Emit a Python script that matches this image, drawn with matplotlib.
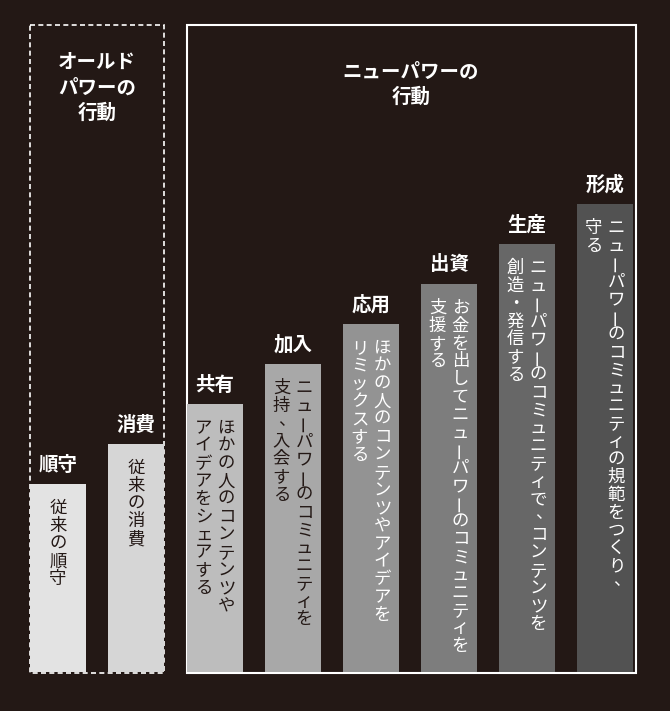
import matplotlib
matplotlib.use("Agg")
import matplotlib.pyplot as plt
from matplotlib.patches import Rectangle

plt.rcParams["font.family"] = "Noto Sans CJK JP"

labels = ["順守", "消費", "共有", "加入", "応用", "出資", "生産", "形成"]
heights = [188, 228, 268, 308, 348, 388, 428, 468]
descs = [["従来の順守"], ["従来の消費"],
         ["ほかの人のコンテンツや", "アイデアをシェアする"],
         ["ニューパワーのコミュニティを", "支持、入会する"],
         ["ほかの人のコンテンツやアイデアを", "リミックスする"],
         ["お金を出してニューパワーのコミュニティを", "支援する"],
         ["ニューパワーのコミュニティで、コンテンツを", "創造・発信する"],
         ["ニューパワーのコミュニティの規範をつくり、", "守る"]]
colors = ["#e3e3e3", "#d6d6d6", "#bdbdbd", "#a8a8a8", "#939393", "#7d7d7d", "#676767", "#525252"]
textcol = ["#231815"] * 4 + ["white"] * 4
xs = [58, 136, 215, 293, 371, 449, 527, 605]
bg = "#231815"
base = 672

fig = plt.figure(figsize=(6.7, 7.11), dpi=100, facecolor=bg)
ax = fig.add_axes([0, 0, 1, 1])
ax.set_facecolor(bg)
ax.set_xlim(0, 670)
ax.set_ylim(711, 0)
ax.axis("off")

ax.add_patch(Rectangle((30, 25), 134, 648, fill=False, ec="white", lw=1.2, ls=(0, (3, 2))))
ax.add_patch(Rectangle((187, 25), 449, 648, fill=False, ec="white", lw=1.5))
ax.text(97, 88, "オールド\nパワーの\n行動", color="white", fontsize=14, fontweight="bold",
        ha="center", va="center", linespacing=1.4)
ax.text(411, 85, "ニューパワーの\n行動", color="white", fontsize=14, fontweight="bold",
        ha="center", va="center", linespacing=1.4)

ax.bar(xs, [-h for h in heights], bottom=base, width=56, color=colors, align="center")

pitch = 17.8
for x, h, lab, d, tc in zip(xs, heights, labels, descs, textcol):
    top = base - h
    ax.text(x, top - 19, lab, color="white", fontsize=14, fontweight="bold", ha="center", va="center")
    n = len(d)
    for j, line in enumerate(d):
        cx = x + (n - 1) * 11.5 - j * 23
        for i, ch in enumerate(line):
            cy = top + 24 + i * pitch
            dx = dy = 0
            rot = 0
            if ch == "ー":
                rot = 90
            if ch in "、。":
                dx, dy = 5, -4
            ax.text(cx + dx, cy + dy, ch, color=tc, fontsize=12.5, ha="center", va="center",
                    rotation=rot)

fig.savefig("out.png", dpi=100, facecolor=bg)
